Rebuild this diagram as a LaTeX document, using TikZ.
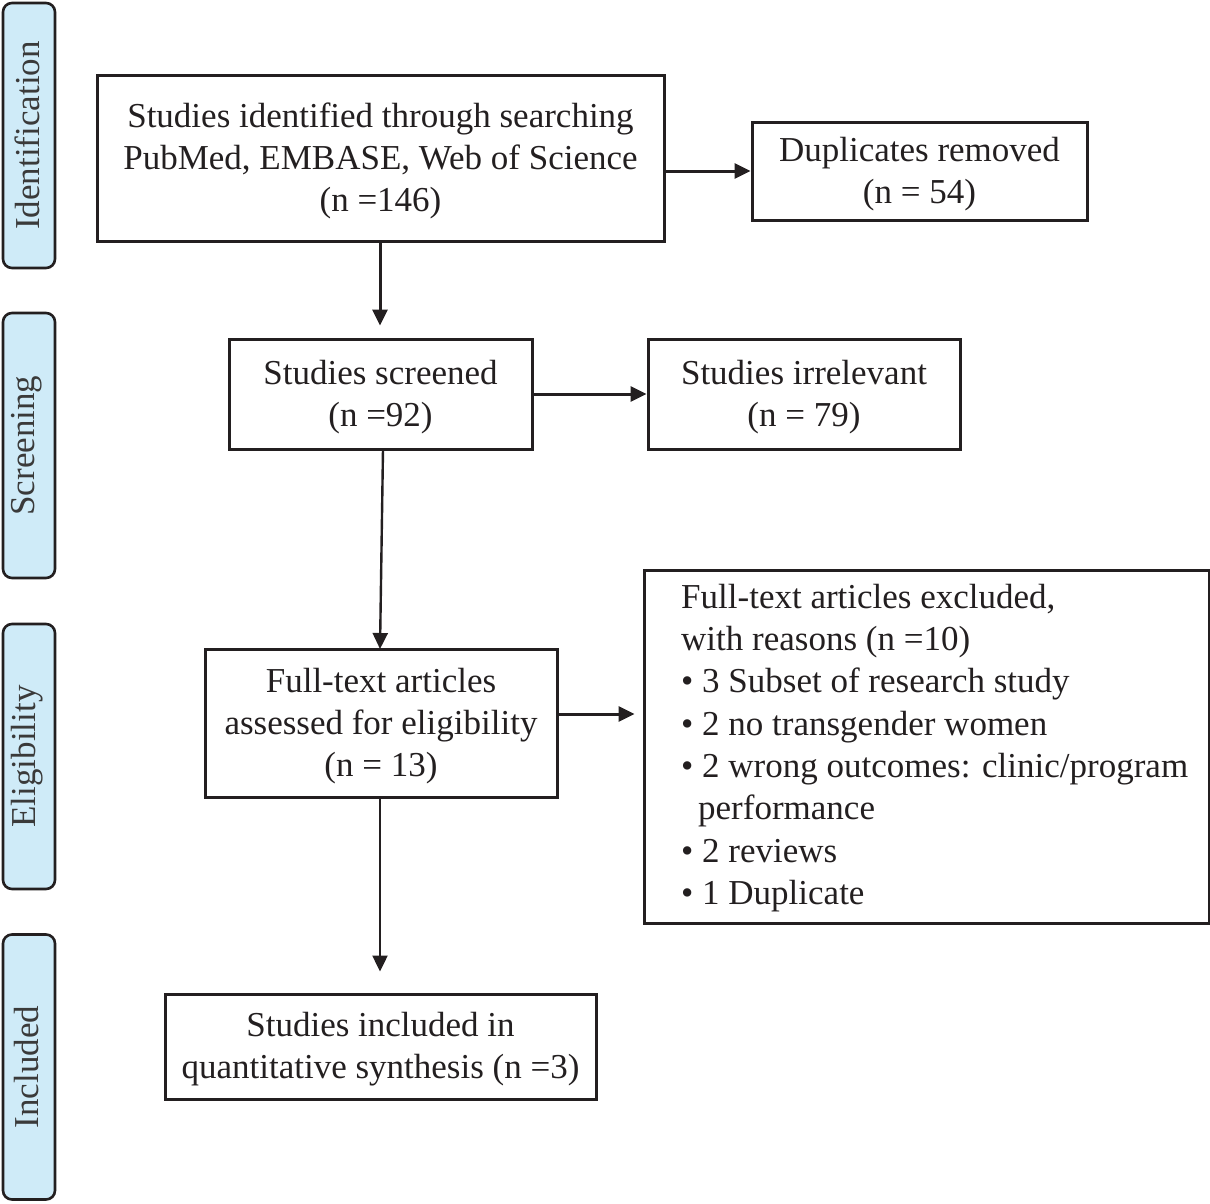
\documentclass[tikz,border=0pt]{standalone}
\usepackage{fontspec}
\setmainfont{Liberation Serif}
\usetikzlibrary{arrows.meta}
\definecolor{ink}{HTML}{231F20}
\definecolor{stagefill}{HTML}{CFEBF8}
\definecolor{stageink}{HTML}{3A3A3A}
\tikzset{
  box/.style={draw=ink, line width=3pt, inner sep=0pt},
  boxtext/.style={text=ink, align=center, inner sep=0pt,
    font=\fontsize{35}{42}\selectfont},
  stage/.style={draw=ink, line width=2.6pt, fill=stagefill, rounded corners=9pt,
    minimum width=52pt, minimum height=265pt, inner sep=0pt},
  stagetext/.style={text=stageink, rotate=90, font=\fontsize{35}{42}\selectfont},
  arr/.style={draw=ink, line width=3pt, -{Triangle[length=16pt,width=15pt]}},
  thinarr/.style={draw=ink, line width=2.4pt, -{Triangle[length=16pt,width=15pt]}},
}
\begin{document}
\begin{tikzpicture}[x=1pt,y=-1pt]
\useasboundingbox (0,0) rectangle (1210,1203);
% stage labels
\node[stage] (sid) at (29,135.5) {};
\node[stagetext] (sidt) at (27,135.5) {Identification};
\node[stage] (ssc) at (29,445.5) {};
\node[stagetext] (ssct) at (27,445.5) {Screening};
\node[stage] (sel) at (29,756.5) {};
\node[stagetext] (selt) at (27,756.5) {Eligibility};
\node[stage] (sin) at (29,1067) {};
\node[stagetext] (sint) at (27,1067) {Included};
% boxes
\node[box, minimum width=567pt, minimum height=166pt] (ident) at (380.5,158) {};
\node[boxtext] (identt) at ([yshift=-3pt]ident.center)
  {Studies identified through searching\\PubMed, EMBASE, Web of Science\\(n =146)};
\node[box, minimum width=335pt, minimum height=98pt] (dup) at (919.5,171) {};
\node[boxtext] (dupt) at ([yshift=-3pt]dup.center) {Duplicates removed\\(n = 54)};
\node[box, minimum width=303pt, minimum height=110pt] (scr) at (380.5,394) {};
\node[boxtext] (scrt) at ([yshift=-3pt]scr.center) {Studies screened\\(n =92)};
\node[box, minimum width=312pt, minimum height=110pt] (irr) at (804,394) {};
\node[boxtext] (irrt) at ([yshift=-3pt]irr.center) {Studies irrelevant\\(n = 79)};
\node[box, minimum width=352pt, minimum height=148pt] (full) at (381,723) {};
\node[boxtext] (fullt) at ([yshift=-3pt]full.center)
  {Full-text articles\\assessed for eligibility\\(n = 13)};
\node[box, minimum width=565pt, minimum height=353pt] (excl) at (926.5,746.5) {};
\node[anchor=west, text=ink, align=left, inner sep=0pt, font=\fontsize{35}{42.3}\selectfont]
  (exclt) at (681,748)
  {Full-text articles excluded,\\
   with reasons (n =10)\\
   • 3 Subset of research study\\
   • 2 no transgender women\\
   • 2 wrong outcomes: clinic/program\\
   \hspace*{17pt}performance\\
   • 2 reviews\\
   • 1 Duplicate};
\node[box, minimum width=431pt, minimum height=105pt] (incl) at (380.5,1046.5) {};
\node[boxtext] (inclt) at ([yshift=-3pt]incl.center)
  {Studies included in\\quantitative synthesis (n =3)};
% connectors
\coordinate (a1s) at (ident.east |- dup.west);
\draw[arr] (a1s) -- (dup.west);
\coordinate (a2s) at (380,241);
\draw[arr, shorten >=12pt] (a2s) -- (a2s |- scr.north);
\draw[arr] (scr.east) -- (irr.west);
\coordinate (a4s) at (383,449);
\coordinate (a4e) at (380,649);
\draw[thinarr] (a4s) -- (a4e);
\coordinate (a5s) at ([yshift=9pt]full.east);
\draw[arr, shorten >=8pt] (a5s) -- (a5s -| excl.west);
\coordinate (a6s) at (380,797);
\draw[thinarr, shorten >=21pt] (a6s) -- (a6s |- incl.north);
\end{tikzpicture}
\end{document}
